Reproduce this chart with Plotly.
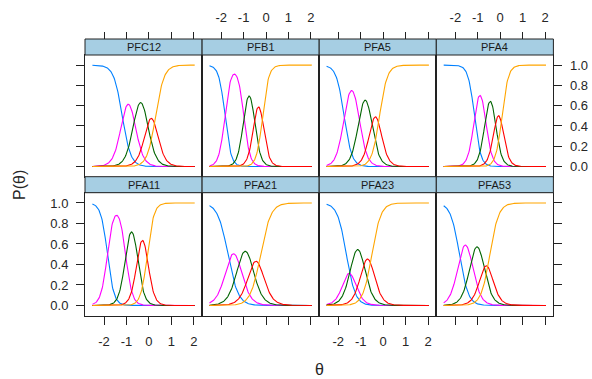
import numpy as np
import plotly.graph_objects as go

# ---- data (graded response model item parameters) ----
items = ["PFC12", "PFB1", "PFA5", "PFA4", "PFA11", "PFA21", "PFA23", "PFA53"]
discrimination = [5.3, 7.3, 5.8, 7.1, 6.8, 4.4, 5.0, 5.1]
threshold1 = [-1.19, -1.83, -1.74, -1.15, -1.85, -1.70, -1.64, -1.82]
threshold2 = [-0.65, -0.99, -1.07, -0.66, -1.04, -1.195, -1.38, -1.29]
threshold3 = [-0.09, -0.52, -0.53, -0.23, -0.51, -0.66, -0.89, -0.78]
threshold4 = [0.30, -0.15, -0.16, 0.08, -0.07, -0.24, -0.50, -0.46]
theta_min, theta_max = -2.52, 2.04
x_ticks = [-2, -1, 0, 1, 2]
x_tick_labels = ["-2", "-1", "0", "1", "2"]
y_ticks = [0.0, 0.2, 0.4, 0.6, 0.8, 1.0]
y_tick_labels = ["0.0", "0.2", "0.4", "0.6", "0.8", "1.0"]

colors = ["#0080ff", "#ff00ff", "#006400", "#ff0000", "#ffa500"]

W, H = 592, 379
col_edges = [85.0, 202.1, 319.2, 436.3, 553.4]
row_plot = [(55.0, 176.7), (192.7, 315.7)]
row_strip = [(39.0, 55.0), (176.7, 192.7)]
XR = [-2.85, 2.37]
YR = [-0.1, 1.1]

def px(x):
    return x / W

def py(y):
    return 1 - y / H

theta = np.linspace(theta_min, theta_max, 200)

def cum(a, b):
    return 1.0 / (1.0 + np.exp(-a * (theta - b)))

fig = go.Figure()
FAM = "Liberation Sans, Arial, sans-serif"
tfont = dict(family=FAM, size=13, color="#262626")
sfont = dict(family=FAM, size=11, color="#1a1a1a")
shapes = []
annotations = []

for i, name in enumerate(items):
    r, c = divmod(i, 4)
    a = discrimination[i]
    bs = [threshold1[i], threshold2[i], threshold3[i], threshold4[i]]
    ps = [np.ones_like(theta)] + [cum(a, b) for b in bs] + [np.zeros_like(theta)]
    probs = [ps[k] - ps[k + 1] for k in range(5)]
    xa = "x" if i == 0 else f"x{i+1}"
    ya = "y" if i == 0 else f"y{i+1}"
    for k in range(5):
        fig.add_trace(go.Scatter(x=theta, y=probs[k], mode="lines",
                                 line=dict(color=colors[k], width=1.1),
                                 xaxis=xa, yaxis=ya, showlegend=False,
                                 hoverinfo="skip"))
    xdom = [px(col_edges[c]), px(col_edges[c + 1])]
    ydom = [py(row_plot[r][1]), py(row_plot[r][0])]
    xkw = dict(domain=xdom, range=XR, anchor=ya, showline=True, mirror=True,
               linecolor="#222", linewidth=1, showgrid=False, zeroline=False,
               tickvals=x_ticks, ticktext=x_tick_labels, tickfont=tfont,
               tickcolor="#222")
    if r == 1:
        xkw.update(ticks="outside", ticklen=8, side="bottom",
                   showticklabels=(c in (0, 2)), ticklabelstandoff=6)
    else:
        xkw.update(ticks="", showticklabels=False)
    ykw = dict(domain=ydom, range=YR, anchor=xa, showline=True, mirror=True,
               linecolor="#222", linewidth=1, showgrid=False, zeroline=False,
               tickvals=y_ticks, ticktext=y_tick_labels, tickfont=tfont,
               tickcolor="#222")
    if c == 0:
        ykw.update(ticks="outside", ticklen=8, side="left",
                   showticklabels=(r == 1), ticklabelstandoff=5)
    elif c == 3:
        ykw.update(ticks="outside", ticklen=8, side="right",
                   showticklabels=(r == 0), ticklabelstandoff=5)
    else:
        ykw.update(ticks="", showticklabels=False)
    fig.layout["xaxis" if i == 0 else f"xaxis{i+1}"] = xkw
    fig.layout["yaxis" if i == 0 else f"yaxis{i+1}"] = ykw

    # strip
    shapes.append(dict(type="rect", xref="paper", yref="paper",
                       x0=xdom[0], x1=xdom[1],
                       y0=py(row_strip[r][1]), y1=py(row_strip[r][0]),
                       fillcolor="#a6cee3", line=dict(color="#222", width=1),
                       layer="above"))
    annotations.append(dict(text=name, xref="paper", yref="paper",
                            x=(xdom[0] + xdom[1]) / 2,
                            y=(py(row_strip[r][1]) + py(row_strip[r][0])) / 2,
                            xanchor="center", yanchor="middle", showarrow=False,
                            font=sfont))

# top tick axes above the strips
for c in range(4):
    n = 9 + c
    base = "x" if c == 0 else f"x{c+1}"
    fig.add_trace(go.Scatter(x=XR, y=[None, None], mode="lines",
                             xaxis=f"x{n}", yaxis="y" if c == 0 else f"y{c+1}",
                             showlegend=False, hoverinfo="skip"))
    fig.layout[f"xaxis{n}"] = dict(
        overlaying=base, range=XR, anchor="free", position=py(row_strip[0][0]),
        side="top", showline=False, showgrid=False, zeroline=False,
        tickvals=x_ticks, ticktext=x_tick_labels, ticks="outside", ticklen=7,
        tickcolor="#222", showticklabels=(c in (1, 3)), tickfont=tfont,
        ticklabelstandoff=5)

annotations.append(dict(text="P(θ)", xref="paper", yref="paper", x=px(19), y=py(185),
                        textangle=-90, showarrow=False, xanchor="center", yanchor="middle",
                        font=dict(family=FAM, size=16, color="#262626")))
annotations.append(dict(text="θ", xref="paper", yref="paper", x=px(319), y=py(369),
                        showarrow=False, xanchor="center", yanchor="middle",
                        font=dict(family=FAM, size=16, color="#262626")))

fig.update_layout(width=W, height=H, margin=dict(l=0, r=0, t=0, b=0),
                  plot_bgcolor="white", paper_bgcolor="white",
                  shapes=shapes, annotations=annotations, showlegend=False)
fig.write_html("out.html")
